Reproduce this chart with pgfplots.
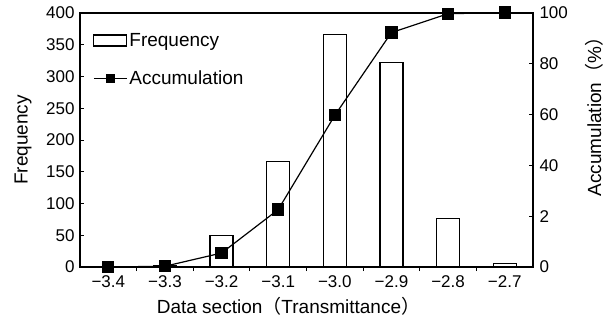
\documentclass[border=0pt]{standalone}
\usepackage{fontspec}
\setmainfont{Liberation Sans}
\newfontfamily\cjk{Noto Sans CJK SC}
\usepackage{pgfplots}
\pgfplotsset{compat=1.18}
\begin{document}
\begin{tikzpicture}
\pgfplotsset{
  every axis/.append style={
    scale only axis, width=453pt, height=254pt,
    at={(0,0)}, anchor=south west,
    xmin=-0.5, xmax=7.5,
    axis line style={line width=1.2pt},
    tick style={line width=1pt, black},
    major tick length=4pt, minor tick length=4pt,
    tick align=inside,
    /pgf/number format/assume math mode=true,
    tick label style={font=\fontsize{17}{20}\selectfont},
    label style={font=\fontsize{19}{22}\selectfont},
  }
}
\begin{axis}[
  ymin=0, ymax=400, ytick={0,50,...,400},
  ytick pos=left, xtick pos=bottom,
  xtick={0,...,7},
  xticklabels={−3.4,−3.3,−3.2,−3.1,−3.0,−2.9,−2.8,−2.7},
  major x tick style={draw=none},
  minor xtick={0.5,1.5,...,6.5},
  x tick label style={yshift=-1pt},
  y tick label style={xshift=-2pt},
  xlabel={Data section{\cjk（}Transmittance{\cjk）}},
  x label style={at={(axis description cs:0.5,0)}, anchor=center, xshift=-18pt, yshift=-39pt},
  ylabel={Frequency},
  y label style={at={(axis description cs:0,0.5)}, anchor=center, yshift=57pt},
  ybar, bar width=23pt,
  legend style={draw=none, fill=none, at={(axis description cs:0,1)}, anchor=north west,
    xshift=10pt, yshift=-16pt, row sep=19pt, font=\fontsize{19}{22}\selectfont},
  legend cell align=left,
]
\addplot[draw=black, fill=white, line width=1.2pt,
  legend image code/.code={\draw[black, fill=white, line width=1.2pt] (0pt,-5.5pt) rectangle (33pt,5.5pt);}]
  coordinates {(0,0) (1,2) (2,50) (3,166) (4,366) (5,322) (6,76) (7,5)};
\addlegendentry{Frequency}
\addlegendimage{black, line width=1.2pt,
  legend image code/.code={\draw[black, line width=1.2pt] (0pt,0pt) -- (33pt,0pt); \fill[black] (12.5pt,-4pt) rectangle (20.5pt,4pt);}}
\addlegendentry{Accumulation}
\end{axis}
\begin{axis}[
  axis y line*=right, axis x line=none,
  ymin=0, ymax=100, ytick={0,20,...,100},
  yticklabels={0,2,40,60,80,100},
  y tick label style={xshift=3pt},
  ylabel={Accumulation{\cjk（}\%{\cjk）}},
  y label style={at={(axis description cs:1,0.5)}, anchor=center, yshift=-61pt, xshift=28pt},
  clip=false,
]
\addplot[black, line width=1.2pt, mark=square*, mark size=5.5pt, mark options={solid}]
  coordinates {(0,0) (1,0.3) (2,5.5) (3,22.6) (4,59.7) (5,92.3) (6,99.7) (7,100.2)};
\end{axis}
\pgfresetboundingbox
\path (-80pt,-58pt) rectangle (534pt,267pt);
\end{tikzpicture}
\end{document}
